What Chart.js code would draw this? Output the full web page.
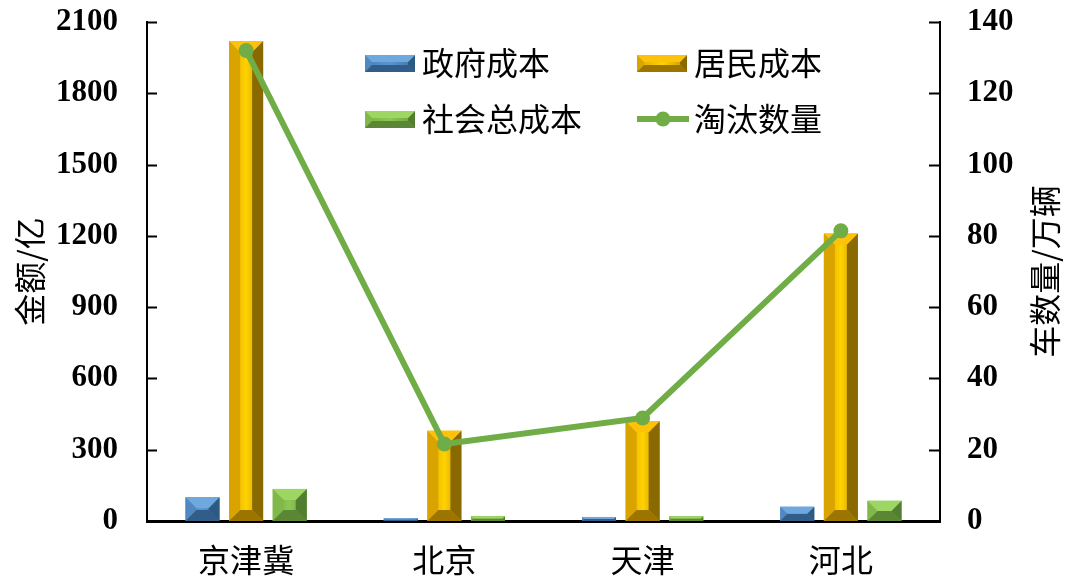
<!DOCTYPE html>
<html lang="zh">
<head>
<meta charset="UTF-8">
<script src="https://cdn.jsdelivr.net/npm/chart.js"></script>
<title>成本与淘汰数量</title>
<style>
    body { margin: 0; background: #ffffff; }
    #wrap { width: 1066px; height: 580px; }
</style>
</head>
<body>
<div id="wrap"><canvas id="chart" width="1066" height="580"></canvas></div>
<script>
    // 数据
    const categories = ['京津冀', '北京', '天津', '河北'];
    const govCost = [100, 12, 17, 60];          // 政府成本 (亿)
    const residentCost = [2020, 380, 420, 1210]; // 居民成本 (亿)
    const socialCost = [135, 20, 20, 85];        // 社会总成本 (亿)
    const phaseOut = [132, 21.6, 28.9, 81.4];    // 淘汰数量 (万辆)
    const seriesNames = ['政府成本', '居民成本', '社会总成本', '淘汰数量'];

    const CJK = '"Noto Sans CJK SC", "Noto Sans", sans-serif';
    const SERIF = '"Liberation Serif", "Times New Roman", serif';

    // 立体（斜角）配色
    const bevel = {
        blue:   { top: '#6ea8de', left: '#5089c1', right: '#2d5a83', bottom: '#315d88', faceL: '#4a82ba', faceM: '#5a95cf', faceR: '#3f73a6' },
        yellow: { top: '#ffc20a', left: '#d9a300', right: '#8a6a00', bottom: '#9c7500', faceL: '#dca600', faceM: '#ffd200', faceR: '#c49300' },
        green:  { top: '#9dd662', left: '#80b84a', right: '#527e2f', bottom: '#5a8636', faceL: '#78b042', faceM: '#8cc853', faceR: '#6a9e3b' }
    };
    const barStyles = [bevel.blue, bevel.yellow, bevel.green];
    const lineColor = '#70ad47';

    function poly(ctx, pts, color) {
        ctx.beginPath();
        ctx.moveTo(pts[0][0], pts[0][1]);
        for (let i = 1; i < pts.length; i++) ctx.lineTo(pts[i][0], pts[i][1]);
        ctx.closePath();
        ctx.fillStyle = color;
        ctx.fill();
    }

    function bevelBar(ctx, left, right, top, bottom, c, size) {
        const w = right - left, h = bottom - top;
        if (w <= 0 || h <= 0) return;
        const b = Math.min(size, w / 2, h / 2);
        const g = ctx.createLinearGradient(left, 0, right, 0);
        g.addColorStop(0, c.faceL);
        g.addColorStop(0.5, c.faceM);
        g.addColorStop(1, c.faceR);
        ctx.fillStyle = g;
        ctx.fillRect(left, top, w, h);
        poly(ctx, [[left, top], [left + b, top + b], [left + b, bottom - b], [left, bottom]], c.left);
        poly(ctx, [[right, top], [right - b, top + b], [right - b, bottom - b], [right, bottom]], c.right);
        poly(ctx, [[left, bottom], [right, bottom], [right - b, bottom - b], [left + b, bottom - b]], c.bottom);
        poly(ctx, [[left, top], [right, top], [right - b, top + b], [left + b, top + b]], c.top);
    }

    // 画柱子的斜角效果
    const bevelPlugin = {
        id: 'bevelBars',
        afterDatasetDraw(chart, args) {
            const meta = args.meta;
            if (meta.type !== 'bar') return;
            const ctx = chart.ctx;
            const style = barStyles[args.index];
            ctx.save();
            meta.data.forEach(el => {
                const p = el.getProps(['x', 'y', 'base', 'width'], true);
                bevelBar(ctx, p.x - p.width / 2, p.x + p.width / 2, p.y, p.base, style, 11);
            });
            ctx.restore();
        }
    };

    // 内向刻度线、坐标轴标题、图例
    const decorPlugin = {
        id: 'decor',
        afterDraw(chart) {
            const ctx = chart.ctx;
            const area = chart.chartArea;
            const y = chart.scales.y, y1 = chart.scales.y1;
            ctx.save();
            ctx.strokeStyle = '#000';
            ctx.lineWidth = 2;
            y.ticks.forEach(t => {
                const py = Math.round(y.getPixelForValue(t.value)) + 0.5;
                ctx.beginPath(); ctx.moveTo(area.left, py); ctx.lineTo(area.left + 10, py); ctx.stroke();
            });
            y1.ticks.forEach(t => {
                const py = Math.round(y1.getPixelForValue(t.value)) + 0.5;
                ctx.beginPath(); ctx.moveTo(area.right, py); ctx.lineTo(area.right - 11, py); ctx.stroke();
            });

            // 坐标轴标题（都逆时针旋转）
            ctx.fillStyle = '#000';
            ctx.font = '32px ' + CJK;
            ctx.textAlign = 'center';
            ctx.textBaseline = 'middle';
            const cy = (area.top + area.bottom) / 2;
            [[30, '金额/亿'], [1045, '车数量/万辆']].forEach(([x, txt]) => {
                ctx.save();
                ctx.translate(x, cy);
                ctx.rotate(-Math.PI / 2);
                ctx.fillText(txt, 0, 0);
                ctx.restore();
            });

            // 图例 2x2
            const cols = [area.left + 218, area.left + 490];
            const rows = [area.top + 41, area.top + 97];
            ctx.font = '32px ' + CJK;
            ctx.textAlign = 'left';
            seriesNames.forEach((name, i) => {
                const x = cols[i % 2], yy = rows[Math.floor(i / 2)];
                if (i < 3) {
                    bevelBar(ctx, x, x + 50, yy - 8, yy + 9, barStyles[i], 7);
                } else {
                    ctx.strokeStyle = lineColor;
                    ctx.lineWidth = 6;
                    ctx.beginPath(); ctx.moveTo(x, yy); ctx.lineTo(x + 52, yy); ctx.stroke();
                    ctx.fillStyle = lineColor;
                    ctx.beginPath(); ctx.arc(x + 26, yy, 7.5, 0, Math.PI * 2); ctx.fill();
                }
                ctx.fillStyle = '#000';
                ctx.fillText(name, x + 57, yy);
            });
            ctx.restore();
        }
    };

    const ctx = document.getElementById('chart').getContext('2d');
    const barCommon = { yAxisID: 'y', backgroundColor: 'rgba(0,0,0,0)', borderWidth: 0, order: 1,
                        categoryPercentage: 0.66, barPercentage: 0.78 };

    const plainTick = v => String(v);

    const chart = new Chart(ctx, {
        type: 'bar',
        data: {
            labels: categories,
            datasets: [
                Object.assign({ label: seriesNames[0], data: govCost }, barCommon),
                Object.assign({ label: seriesNames[1], data: residentCost }, barCommon),
                Object.assign({ label: seriesNames[2], data: socialCost }, barCommon),
                {
                    type: 'line', label: seriesNames[3], data: phaseOut, yAxisID: 'y1', order: 0,
                    borderColor: lineColor, borderWidth: 6, pointRadius: 7.5,
                    pointBackgroundColor: lineColor, pointBorderWidth: 0, tension: 0
                }
            ]
        },
        options: {
            responsive: false,
            animation: false,
            layout: { padding: { top: 22, left: 0, right: 0, bottom: 0 } },
            plugins: { legend: { display: false }, tooltip: { enabled: false } },
            scales: {
                x: {
                    grid: { display: false, drawTicks: false },
                    border: { display: true, color: '#000', width: 3 },
                    ticks: { color: '#000', font: { family: CJK, size: 32 }, padding: 20 },
                    afterFit(s) { s.height = 59; s.paddingLeft = 0; s.paddingRight = 0; }
                },
                y: {
                    position: 'left', min: 0, max: 2100,
                    grid: { display: false, drawTicks: false },
                    border: { display: true, color: '#000', width: 2 },
                    ticks: { stepSize: 300, callback: plainTick, color: '#000', font: { family: SERIF, size: 31, weight: 'bold' }, padding: 29 },
                    afterFit(s) { s.width = 147; s.paddingTop = 0; s.paddingBottom = 0; }
                },
                y1: {
                    position: 'right', min: 0, max: 140,
                    grid: { display: false, drawTicks: false },
                    border: { display: true, color: '#000', width: 2 },
                    ticks: { stepSize: 20, callback: plainTick, color: '#000', font: { family: SERIF, size: 31, weight: 'bold' }, padding: 27 },
                    afterFit(s) { s.width = 126; s.paddingTop = 0; s.paddingBottom = 0; }
                }
            }
        },
        plugins: [bevelPlugin, decorPlugin]
    });
</script>
</body>
</html>
